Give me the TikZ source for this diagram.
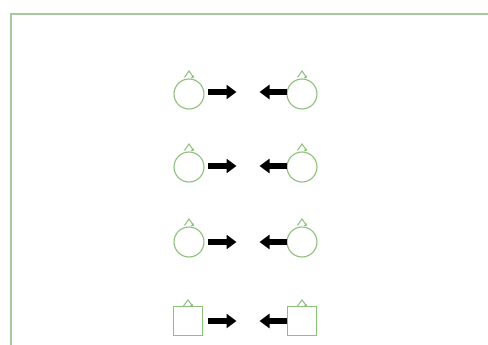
\documentclass[tikz,border=0pt]{standalone}
\usetikzlibrary{arrows.meta}
\definecolor{frm}{HTML}{A8C79A}
\definecolor{grn}{HTML}{8DC07B}
\tikzset{
  ring/.style={circle,draw=grn,line width=1.1pt,minimum size=30pt,inner sep=0pt},
  sqbox/.style={rectangle,draw=grn,line width=1.1pt,minimum size=29pt,inner sep=0pt},
  blk/.style={line width=6.5pt,black,-{Triangle[width=14pt,length=10pt]}},
  peakline/.style={draw=grn,line width=1pt,line join=miter}
}
\begin{document}
\begin{tikzpicture}[x=1pt,y=-1pt]
\useasboundingbox (0,0) rectangle (488,345);
\fill[white] (0,0) rectangle (488,345);
\draw[frm,line width=1.3pt] (11,14) rectangle (520,380);

% rows of circles
\foreach \r/\y/\ay in {1/94/92,2/167/166,3/242/242}{
  \node[ring] (L\r) at (189,\y) {};
  \node[ring] (R\r) at (302,\y) {};
  \coordinate (la\r) at (208,\ay);
  \coordinate (lb\r) at (236.5,\ay);
  \coordinate (ra\r) at (287,\ay);
  \coordinate (rb\r) at (259.5,\ay);
  \draw[blk] (la\r) -- (lb\r);
  \draw[blk] (ra\r) -- (rb\r);
  \foreach \n in {L\r,R\r}{
    \draw[peakline] ([xshift=-4.5pt,yshift=1pt]\n.north) -- ++(4.5,-6.5) -- ++(4.5,6.5);
    \fill[grn] ([xshift=1.5pt,yshift=0.5pt]\n.north) -- ++(3,0) -- ++(0,-2.5) -- cycle;
  }
}

% row of squares
\node[sqbox] (L4) at (188,321) {};
\node[sqbox] (R4) at (302,321) {};
\coordinate (la4) at (208,321);
\coordinate (lb4) at (236.5,321);
\coordinate (ra4) at (287,321);
\coordinate (rb4) at (259.5,321);
\draw[blk] (la4) -- (lb4);
\draw[blk] (ra4) -- (rb4);
\foreach \n in {L4,R4}{
  \draw[peakline] ([xshift=-4.5pt]\n.north) -- ++(4.5,-6) -- ++(4.5,6);
  \fill[grn] ([xshift=1.5pt,yshift=-0.3pt]\n.north) -- ++(3,0) -- ++(0,-2.5) -- cycle;
}
\end{tikzpicture}
\end{document}
